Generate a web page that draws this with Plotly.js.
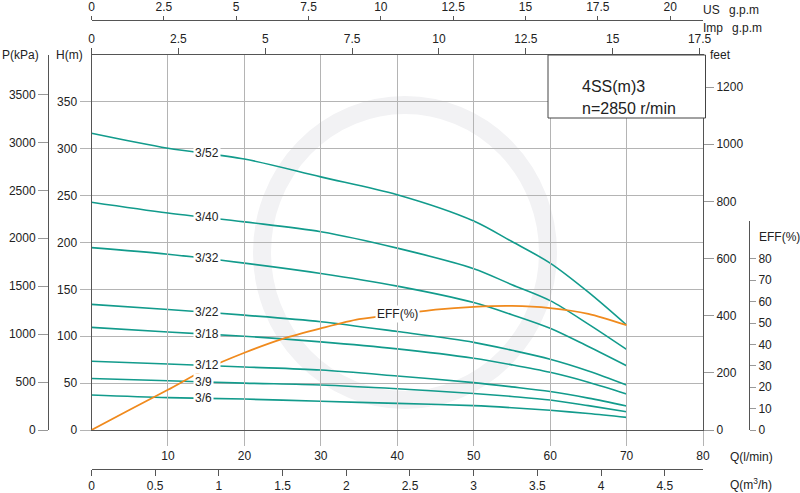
<!DOCTYPE html>
<html>
<head>
<meta charset="utf-8">
<script src="https://cdn.plot.ly/plotly-3.0.1.min.js"></script>
<style>
  body { margin: 0; background: #fff; }
  #chart { width: 800px; height: 493px; }
</style>
</head>
<body>
<div id="chart"></div>
<script>
// flow points (l/min) where the head curves were read
const flowLmin = [0, 10, 20, 30, 40, 50, 55, 60, 65, 70];
const curveNames = ['3/52', '3/40', '3/32', '3/22', '3/18', '3/12', '3/9', '3/6'];
const head352 = [316.5, 300.5, 289, 270, 251, 223, 201, 178, 147, 112];
const head340 = [243, 231.5, 222, 211.5, 194, 172, 155, 138, 113, 86];
const head332 = [194.5, 187.5, 178, 167, 153.5, 136, 123, 108.5, 89, 68.5];
const head322 = [134, 128.5, 122.5, 115.5, 105, 93.5, 85, 75.5, 63, 48];
const head318 = [109.5, 104.5, 100, 94, 86.5, 76.5, 69.5, 61.5, 51, 38.5];
const head312 = [73.3, 70.4, 67.2, 64, 57.6, 50.5, 46, 41, 34, 25.6];
const head309 = [55, 52.5, 50, 48, 44, 39, 35.8, 32, 26, 19.5];
const head306 = [37.3, 34.5, 33, 30.6, 28.4, 26, 23.8, 21, 17.6, 13.5];
const headCurves = [head352, head340, head332, head322, head318, head312, head309, head306];

// efficiency curve
const effFlow = [0, 5, 10, 15, 20, 25, 30, 35, 40, 45, 50, 55, 60, 65, 70];
const effPct = [0, 9.5, 18.8, 28.5, 36.1, 42.6, 47.5, 51.8, 54, 56.3, 57.6, 58, 57, 54.3, 49];

// unit conversions for the secondary scales
const maxFlow = 80;
const maxHead = 400;
const kPaPerMetre = 9.78;
const metresPerFoot = 0.3048;
const litresPerUSGal = 3.785;
const litresPerImpGal = 4.546;

const teal = '#129b8c';
const orange = '#f08a1d';
const gridColor = '#b4b4b4';
const lineColor = '#555';

// page pixels -> paper coords (plot paper is 48..749 x 20..469)
const px = x => (x - 48) / 701;
const py = y => (469 - y) / 449;

function interp(xs, ys, x) {
  for (let i = 1; i < xs.length; i++) {
    if (x <= xs[i]) {
      const t = (x - xs[i - 1]) / (xs[i] - xs[i - 1]);
      return ys[i - 1] + t * (ys[i] - ys[i - 1]);
    }
  }
  return ys[ys.length - 1];
}

const traces = headCurves.map((h, i) => ({
  x: flowLmin,
  y: h,
  name: curveNames[i],
  type: 'scatter',
  mode: 'lines',
  line: { color: teal, width: 1.6, shape: 'spline', smoothing: 0.9 },
  hoverinfo: 'name+x+y'
}));

traces.push({
  x: effFlow,
  y: effPct,
  name: 'EFF(%)',
  type: 'scatter',
  mode: 'lines',
  yaxis: 'y4',
  line: { color: orange, width: 1.8, shape: 'spline', smoothing: 0.8 },
  hoverinfo: 'name+x+y'
});

// empty traces so plotly draws the unit-conversion axes
[['x2', 'y'], ['x3', 'y'], ['x4', 'y'], ['x', 'y2'], ['x', 'y3']].forEach(([xa, ya]) => {
  traces.push({ x: [], y: [], xaxis: xa, yaxis: ya, type: 'scatter', mode: 'lines', hoverinfo: 'skip' });
});

const labelFlow = 13.3;
const annotations = curveNames.map((n, i) => ({
  x: labelFlow,
  y: interp(flowLmin, headCurves[i], labelFlow + 1.5),
  xref: 'x', yref: 'y',
  text: n,
  showarrow: false,
  xanchor: 'left',
  bgcolor: '#fff',
  borderpad: 1,
  font: { size: 12, color: '#222' }
}));

annotations.push({
  x: 40, y: interp(effFlow, effPct, 40), xref: 'x', yref: 'y4',
  text: 'EFF(%)', showarrow: false, bgcolor: '#fff', borderpad: 1,
  font: { size: 12, color: '#222' }
});

const axisText = [
  ['P(kPa)', 0, 55], ['H(m)', 54, 55], ['feet', 708, 55],
  ['US', 701, 10], ['g.p.m', 727, 10], ['Imp', 701, 28], ['g.p.m', 730, 28],
  ['EFF(%)', 757, 237], ['Q(l/min)', 728, 457], ['Q(m<sup>3</sup>/h)', 728, 484]
];
axisText.forEach(([t, x, y]) => annotations.push({
  x: px(x), y: py(y), xref: 'paper', yref: 'paper', text: t, showarrow: false,
  xanchor: 'left', yanchor: 'middle', font: { size: 12, color: '#222' }
}));

annotations.push(
  { x: px(580), y: py(76), xref: 'paper', yref: 'paper', text: '4SS(m)3', showarrow: false,
    xanchor: 'left', font: { size: 16, color: '#222' } },
  { x: px(580), y: py(98), xref: 'paper', yref: 'paper', text: 'n=2850 r/min', showarrow: false,
    xanchor: 'left', font: { size: 16, color: '#222' } }
);

const baseAxis = {
  showgrid: false, zeroline: false, showline: true, linecolor: lineColor, linewidth: 1,
  ticks: 'outside', tickcolor: lineColor, ticklen: 6, tickfont: { size: 12, color: '#222' }
};

const layout = {
  width: 800,
  height: 493,
  margin: { t: 20, l: 48, r: 51, b: 24 },
  paper_bgcolor: '#fff',
  plot_bgcolor: 'rgba(0,0,0,0)',
  font: { family: 'Liberation Sans, Arial, sans-serif', size: 12, color: '#222' },
  showlegend: false,
  xaxis: {
    ...baseAxis,
    domain: [px(91.5), px(703)],
    range: [0, maxFlow],
    tickvals: [10, 20, 30, 40, 50, 60, 70, 80],
    showgrid: true, gridcolor: gridColor, mirror: true,
    tickcolor: gridColor, ticklen: 15
  },
  xaxis2: {
    ...baseAxis,
    overlaying: 'x', anchor: 'free', position: 0, side: 'bottom',
    range: [0, maxFlow * 60 / 1000],
    tickvals: [0, 0.5, 1, 1.5, 2, 2.5, 3, 3.5, 4, 4.5]
  },
  xaxis3: {
    ...baseAxis,
    overlaying: 'x', anchor: 'y', side: 'top',
    range: [0, maxFlow / litresPerImpGal],
    tickvals: [0, 2.5, 5, 7.5, 10, 12.5, 15, 17.5]
  },
  xaxis4: {
    ...baseAxis,
    overlaying: 'x', anchor: 'free', position: 1, side: 'top',
    range: [0, maxFlow / litresPerUSGal],
    tickvals: [0, 2.5, 5, 7.5, 10, 12.5, 15, 17.5, 20],
    ticklen: 4
  },
  yaxis: {
    ...baseAxis,
    domain: [py(430), py(55)],
    range: [0, maxHead],
    tickvals: [0, 50, 100, 150, 200, 250, 300, 350],
    showgrid: true, gridcolor: gridColor, mirror: true,
    tickcolor: gridColor, ticklen: 11
  },
  yaxis2: {
    ...baseAxis,
    overlaying: 'y', anchor: 'free', position: 0, side: 'left',
    range: [0, maxHead * kPaPerMetre],
    tickvals: [0, 500, 1000, 1500, 2000, 2500, 3000, 3500],
    ticklen: 10, tickcolor: '#999'
  },
  yaxis3: {
    ...baseAxis,
    overlaying: 'y', anchor: 'x', side: 'right',
    range: [0, maxHead / metresPerFoot],
    tickvals: [0, 200, 400, 600, 800, 1000, 1200],
    ticklen: 10, tickcolor: '#999'
  },
  yaxis4: {
    ...baseAxis,
    anchor: 'free', position: 1, side: 'right',
    domain: [py(430), py(221)],
    range: [0, 97.7],
    tickvals: [0, 10, 20, 30, 40, 50, 60, 70, 80],
    ticklen: 6, tickcolor: '#999'
  },
  shapes: [
    // faint watermark ring behind the curves
    {
      type: 'circle', xref: 'paper', yref: 'paper', layer: 'below',
      x0: px(262), x1: px(548), y0: py(400), y1: py(105),
      line: { color: '#f2f2f4', width: 18 }
    },
    {
      type: 'rect', xref: 'paper', yref: 'paper',
      x0: px(548), x1: px(705.5), y0: py(118), y1: py(55),
      fillcolor: '#fff', line: { color: '#444', width: 1 }
    }
  ],
  annotations: annotations
};

Plotly.newPlot('chart', traces, layout, { staticPlot: true });
</script>
</body>
</html>
